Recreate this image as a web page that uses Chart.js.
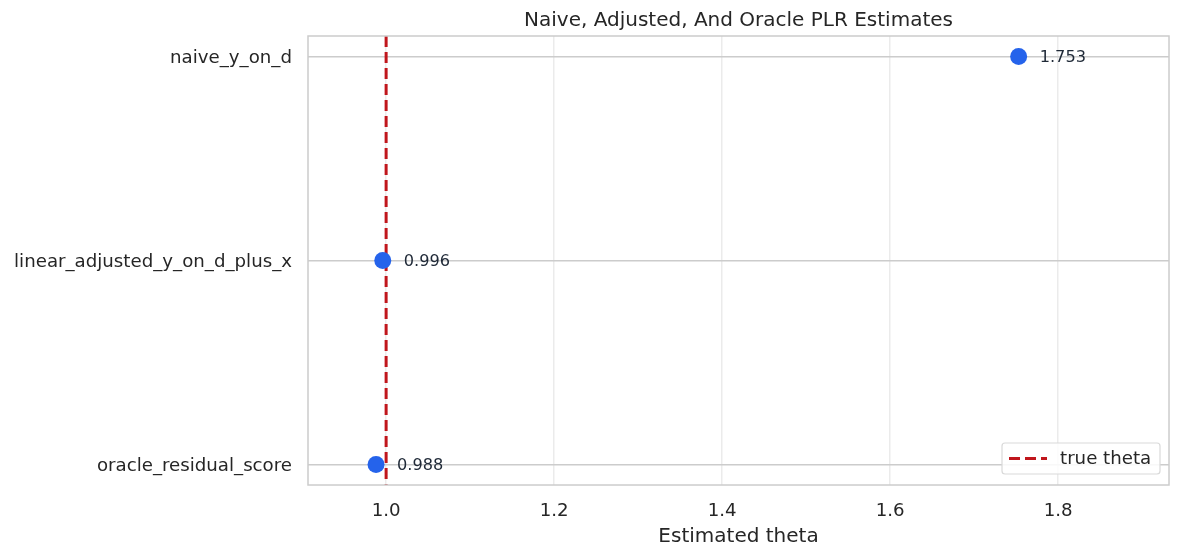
<!DOCTYPE html>
<html>
<head>
<meta charset="utf-8">
<script src="https://cdn.jsdelivr.net/npm/chart.js@4.4.1/dist/chart.umd.min.js"></script>
<style>
html,body{margin:0;padding:0;background:#fff;}
#wrap{width:1180px;height:556px;position:relative;}
</style>
</head>
<body>
<div id="wrap"><canvas id="c" width="1180" height="556"></canvas></div>
<script>
const categories = ["naive_y_on_d", "linear_adjusted_y_on_d_plus_x", "oracle_residual_score"];
const estimates = [1.753, 0.996, 0.988];
const estimateLabels = ["1.753", "0.996", "0.988"];
const trueTheta = 1.0;
const xTicks = [1.0, 1.2, 1.4, 1.6, 1.8];
const chartTitle = "Naive, Adjusted, And Oracle PLR Estimates";
const xTitle = "Estimated theta";
const legendLabel = "true theta";

const FONT = "'DejaVu Sans', sans-serif";
const TEXT = "#262626";
const POINT = "#2563eb";
const RED = "#c0161c";

const pointData = categories.map((c, i) => ({x: estimates[i], y: i}));

const framePlugin = {
  id: 'frame',
  afterDraw(chart) {
    const ctx = chart.ctx, a = chart.chartArea;
    ctx.save();
    ctx.strokeStyle = '#cccccc';
    ctx.lineWidth = 1.5;
    ctx.strokeRect(a.left, a.top, a.right - a.left, a.bottom - a.top);
    // title
    ctx.fillStyle = TEXT;
    ctx.font = "20px " + FONT;
    ctx.textAlign = 'center';
    ctx.textBaseline = 'middle';
    ctx.fillText(chartTitle, (a.left + a.right) / 2, 21);
    // annotations
    const meta = chart.getDatasetMeta(1);
    ctx.font = "16.2px " + FONT;
    ctx.fillStyle = "#1f2937";
    ctx.textAlign = 'left';
    meta.data.forEach((el, i) => {
      ctx.fillText(estimateLabels[i], el.x + 21, el.y + 1);
    });
    // legend
    const lw = 158, lh = 31;
    const lx = a.right - 9 - lw, ly = a.bottom - 11 - lh;
    ctx.fillStyle = 'rgba(255,255,255,0.85)';
    ctx.strokeStyle = '#d9d9d9';
    ctx.lineWidth = 1.2;
    ctx.beginPath();
    if (ctx.roundRect) ctx.roundRect(lx, ly, lw, lh, 3); else ctx.rect(lx, ly, lw, lh);
    ctx.fill(); ctx.stroke();
    ctx.strokeStyle = RED;
    ctx.lineWidth = 3;
    ctx.setLineDash([11, 5]);
    ctx.beginPath();
    ctx.moveTo(lx + 7, ly + lh / 2);
    ctx.lineTo(lx + 45, ly + lh / 2);
    ctx.stroke();
    ctx.setLineDash([]);
    ctx.fillStyle = TEXT;
    ctx.font = "18.2px " + FONT;
    ctx.textAlign = 'left';
    ctx.fillText(legendLabel, lx + 58, ly + lh / 2 + 1);
    ctx.restore();
  }
};

new Chart(document.getElementById('c'), {
  type: 'scatter',
  data: {
    datasets: [
      {
        type: 'line',
        label: legendLabel,
        data: [{x: trueTheta, y: -0.1}, {x: trueTheta, y: 2.1}],
        borderColor: RED,
        borderWidth: 3,
        borderDash: [11, 5],
        pointRadius: 0,
        fill: false,
        order: 1
      },
      {
        label: 'estimates',
        data: pointData,
        backgroundColor: POINT,
        borderColor: POINT,
        pointRadius: 8.5,
        pointHoverRadius: 8.5,
        borderWidth: 0,
        order: 0
      }
    ]
  },
  options: {
    responsive: false,
    animation: false,
    devicePixelRatio: 1,
    layout: {padding: {left: 0, right: 11, top: 36, bottom: 0}},
    plugins: {legend: {display: false}, tooltip: {enabled: false}, title: {display: false}},
    scales: {
      x: {
        type: 'linear',
        min: 0.907,
        max: 1.932,
        afterBuildTicks(s) { s.ticks = xTicks.map(v => ({value: v})); },
        afterFit(s) { s.height = 71; },
        grid: {color: '#ebebeb', lineWidth: 1.5, drawTicks: false},
        border: {display: false},
        ticks: {
          color: TEXT, font: {family: FONT, size: 18.2}, padding: 15,
          callback: v => v.toFixed(1)
        },
        title: {display: true, text: xTitle, color: TEXT, font: {family: FONT, size: 20}, padding: {top: 2, bottom: 7}}
      },
      y: {
        type: 'linear',
        min: -0.1,
        max: 2.1,
        reverse: true,
        afterBuildTicks(s) { s.ticks = categories.map((c, i) => ({value: i})); },
        afterFit(s) { s.width = 308; },
        grid: {color: '#cccccc', lineWidth: 1.5, drawTicks: false},
        border: {display: false},
        ticks: {
          color: TEXT, font: {family: FONT, size: 18.2}, padding: 16, labelOffset: 2,
          callback: v => categories[v]
        }
      }
    }
  },
  plugins: [framePlugin]
});
</script>
</body>
</html>
